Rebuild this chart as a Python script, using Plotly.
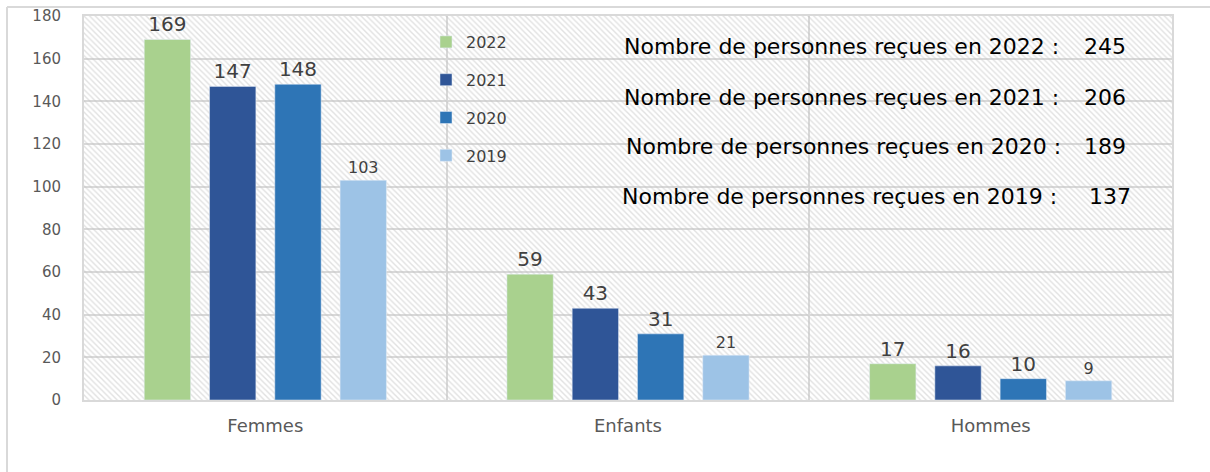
import plotly.graph_objects as go

categories = ["Femmes", "Enfants", "Hommes"]
years = ["2022", "2021", "2020", "2019"]
values = {
    "2022": [169, 59, 17],
    "2021": [147, 43, 16],
    "2020": [148, 31, 10],
    "2019": [103, 21, 9],
}
totals = {"2022": 245, "2021": 206, "2020": 189, "2019": 137}
colors = {"2022": "#A9D18E", "2021": "#2F5597", "2020": "#2E75B6", "2019": "#9DC3E6"}
label_sizes = {"2022": 20, "2021": 20, "2020": 20, "2019": 16}
y_ticks = list(range(0, 181, 20))

FW, FH = 1210, 472
L, R, T, B = 84, 1172, 16, 400
W, H = R - L, B - T


def px(xp):
    return (xp - L) / W


def py(yp):
    return (B - yp) / H


fig = go.Figure()

# hatched plot background (main axes, hidden)
fig.add_trace(go.Scatter(
    x=[0, 1, 1, 0, 0], y=[0, 0, 1, 1, 0], mode="lines", fill="toself",
    line=dict(width=0), fillcolor="rgba(0,0,0,0)",
    fillpattern=dict(shape="\\", fgcolor="#c4c4c4", bgcolor="rgba(0,0,0,0)",
                     size=4, solidity=0.35),
    showlegend=False, hoverinfo="skip", xaxis="x", yaxis="y",
))

for yr in years:
    fig.add_trace(go.Bar(
        name=yr, x=categories, y=values[yr], marker_color=colors[yr],
        text=values[yr], textposition="outside", cliponaxis=False,
        textfont=dict(family="DejaVu Sans", size=label_sizes[yr], color="#404040"),
        xaxis="x2", yaxis="y2", legendgroup=yr,
    ))

annots = []
ann_y = {"2022": 46, "2021": 97, "2020": 146, "2019": 196}
ann_x = {"2022": 622, "2021": 622, "2020": 624, "2019": 620}
num_x = {"2022": 1128, "2021": 1128, "2020": 1128, "2019": 1133}
for yr in years:
    annots.append(dict(
        text=f"Nombre de personnes reçues en {yr} :", xref="paper", yref="paper",
        x=px(ann_x[yr]), y=py(ann_y[yr]), xanchor="left", yanchor="middle", showarrow=False,
        font=dict(family="DejaVu Sans", size=22, color="#000000"),
    ))
    annots.append(dict(
        text=str(totals[yr]), xref="paper", yref="paper",
        x=px(num_x[yr]), y=py(ann_y[yr]), xanchor="right", yanchor="middle", showarrow=False,
        font=dict(family="DejaVu Sans", size=22, color="#000000"),
    ))

shapes = [
    dict(type="line", xref="paper", yref="paper", x0=px(7), x1=px(7),
         y0=py(7), y1=py(480), line=dict(color="#d9d9d9", width=2)),
    dict(type="line", xref="paper", yref="paper", x0=px(7), x1=px(1215),
         y0=py(7), y1=py(7), line=dict(color="#d9d9d9", width=2)),
]

fig.update_layout(
    width=FW, height=FH,
    margin=dict(l=L, r=FW - R, t=T, b=FH - B, autoexpand=False),
    paper_bgcolor="white", plot_bgcolor="white",
    barmode="group", bargap=0.28, bargroupgap=0.29,
    xaxis=dict(range=[0, 1], visible=False, fixedrange=True, automargin=False),
    yaxis=dict(range=[0, 1], visible=False, fixedrange=True, automargin=False),
    xaxis2=dict(overlaying="x", anchor="y2", type="category", tickson="boundaries",
                showgrid=True, gridcolor="#d9d9d9", gridwidth=2,
                showline=True, linecolor="#d9d9d9", linewidth=2, mirror=True,
                ticks="", ticklabelstandoff=8, automargin=False,
                tickfont=dict(family="DejaVu Sans", size=18, color="#595959")),
    yaxis2=dict(overlaying="y", anchor="x2", range=[0, 180], tickvals=y_ticks,
                showgrid=True, gridcolor="#d9d9d9", gridwidth=1.5,
                showline=True, linecolor="#d9d9d9", linewidth=2, mirror=True,
                zeroline=False, ticks="", ticklabelstandoff=18, automargin=False,
                tickfont=dict(family="DejaVu Sans", size=15, color="#595959")),
    legend=dict(x=px(426), y=py(25), xanchor="left", yanchor="top",
                bgcolor="rgba(0,0,0,0)", tracegroupgap=14,
                font=dict(family="DejaVu Sans", size=16, color="#404040")),
    annotations=annots, shapes=shapes,
)

fig.write_html("out.html", config={"displayModeBar": False},
               post_script="document.body.style.margin='0';")
